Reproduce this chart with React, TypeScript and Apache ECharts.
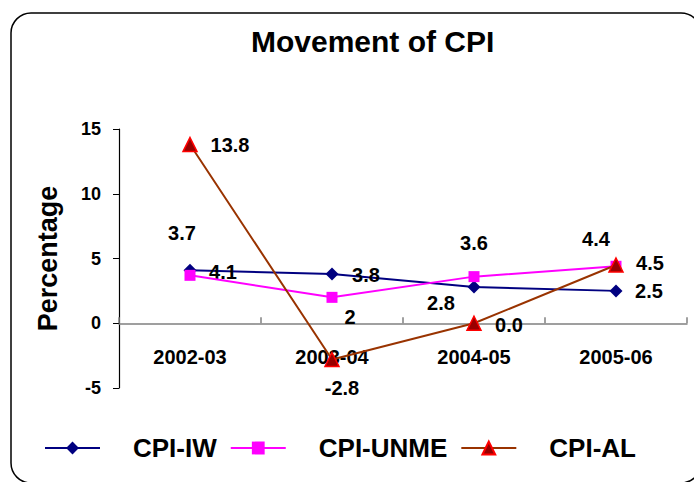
import React, { useEffect, useRef } from "react";
import * as echarts from "echarts";

const categories = ["2002-03", "2003-04", "2004-05", "2005-06"];
const cpiIW = [4.1, 3.8, 2.8, 2.5];
const cpiUNME = [3.7, 2, 3.6, 4.4];
const cpiAL = [13.8, -2.8, 0.0, 4.5];
const yTicks = { min: -5, max: 15, interval: 5 };
const seriesNames = ["CPI-IW", "CPI-UNME", "CPI-AL"];

// label offsets (px) relative to each point — styling only
const offIW = [[33, 2], [34, 1], [-33, 16], [33, 0]];
const offUNME = [[-8, -42], [18, 20], [0, -34], [-20, -27]];
const offAL = [[40, 0], [10, 28], [35, 2], [34, -2]];
// legend text box widths (styling only)
const legendTextWidths = [88, 138, 88];

const FONT = "'Liberation Sans', Arial, sans-serif";

const GRID_TOP = 129;
const GRID_BOTTOM_PX = 388;

export default function App() {
  const ref = useRef<HTMLDivElement>(null);
  useEffect(() => {
    if (!ref.current) return;
    const chart = echarts.init(ref.current, undefined, { renderer: "svg" });
    const mk = (vals: number[], offs: number[][]) =>
      vals.map((v, i) => ({ value: v, label: { offset: offs[i] } }));
    const labelBase = {
      show: true,
      position: "inside",
      fontSize: 20,
      fontWeight: "bold",
      color: "#000",
      fontFamily: FONT,
    };
    const legendFont = { fontSize: 26, fontWeight: "bold", color: "#000", fontFamily: FONT };
    const rich: any = {};
    seriesNames.forEach((n, i) => {
      rich["k" + i] = { ...legendFont, width: legendTextWidths[i] };
    });
    // shift the category axis up so it sits at value 0
    const zeroOffset =
      -((0 - yTicks.min) / (yTicks.max - yTicks.min)) * (GRID_BOTTOM_PX - GRID_TOP);
    chart.setOption({
      animation: false,
      textStyle: { fontFamily: FONT },
      title: {
        text: "Movement of CPI",
        left: 246,
        top: 21,
        textStyle: { fontSize: 30, fontWeight: "bold", color: "#000", fontFamily: FONT },
      },
      graphic: [
        {
          type: "rect",
          shape: { x: 11, y: 13, width: 690, height: 470, r: 20 },
          style: { fill: "none", stroke: "#000", lineWidth: 1.5 },
          silent: true,
        },
      ],
      legend: {
        left: 39,
        top: 430,
        itemWidth: 55,
        itemHeight: 16,
        itemGap: 13,
        formatter: (name: string) => `{k${seriesNames.indexOf(name)}|${name}}`,
        textStyle: {
          ...legendFont,
          padding: [0, 0, 0, 28],
          rich,
        },
        data: seriesNames,
      },
      grid: { left: 119, right: 7, top: GRID_TOP, bottom: 482 - GRID_BOTTOM_PX, containLabel: false },
      xAxis: {
        type: "category",
        data: categories,
        boundaryGap: true,
        offset: zeroOffset,
        axisLine: { onZero: false, lineStyle: { color: "#808080", width: 1.5 } },
        axisTick: { show: true, inside: true, length: 6, lineStyle: { color: "#808080", width: 1.5 } },
        axisLabel: { margin: 24, fontSize: 20, fontWeight: "bold", color: "#000", fontFamily: FONT },
        splitLine: { show: false },
      },
      yAxis: {
        type: "value",
        min: yTicks.min,
        max: yTicks.max,
        interval: yTicks.interval,
        name: "Percentage",
        nameLocation: "middle",
        nameGap: 58,
        nameTextStyle: { fontSize: 27, fontWeight: "bold", color: "#000", fontFamily: FONT },
        axisLine: { show: true, onZero: false, lineStyle: { color: "#000", width: 1.2 } },
        axisTick: { show: true, length: 6, lineStyle: { color: "#000" } },
        axisLabel: { margin: 18, fontSize: 18, fontWeight: "bold", color: "#000", fontFamily: FONT },
        splitLine: { show: false },
      },
      series: [
        {
          name: seriesNames[0],
          type: "line",
          data: mk(cpiIW, offIW),
          symbol: "diamond",
          symbolSize: 13,
          lineStyle: { color: "#000080", width: 2 },
          itemStyle: { color: "#000080" },
          label: { ...labelBase, formatter: (p: any) => String(p.value) },
          z: 3,
        },
        {
          name: seriesNames[1],
          type: "line",
          data: mk(cpiUNME, offUNME),
          symbol: "rect",
          symbolSize: 11,
          lineStyle: { color: "#FF00FF", width: 2 },
          itemStyle: { color: "#FF00FF" },
          label: { ...labelBase, formatter: (p: any) => String(p.value) },
          z: 4,
        },
        {
          name: seriesNames[2],
          type: "line",
          data: mk(cpiAL, offAL),
          symbol: "triangle",
          symbolSize: 14,
          lineStyle: { color: "#993300", width: 2 },
          itemStyle: { color: "#990000", borderColor: "#FF0000", borderWidth: 1.5 },
          label: { ...labelBase, formatter: (p: any) => Number(p.value).toFixed(1) },
          z: 5,
        },
      ],
    });
    return () => chart.dispose();
  }, []);
  return (
    <div
      ref={ref}
      style={{ width: 694, height: 482, position: "absolute", left: 0, top: 0, background: "#fff" }}
    />
  );
}
